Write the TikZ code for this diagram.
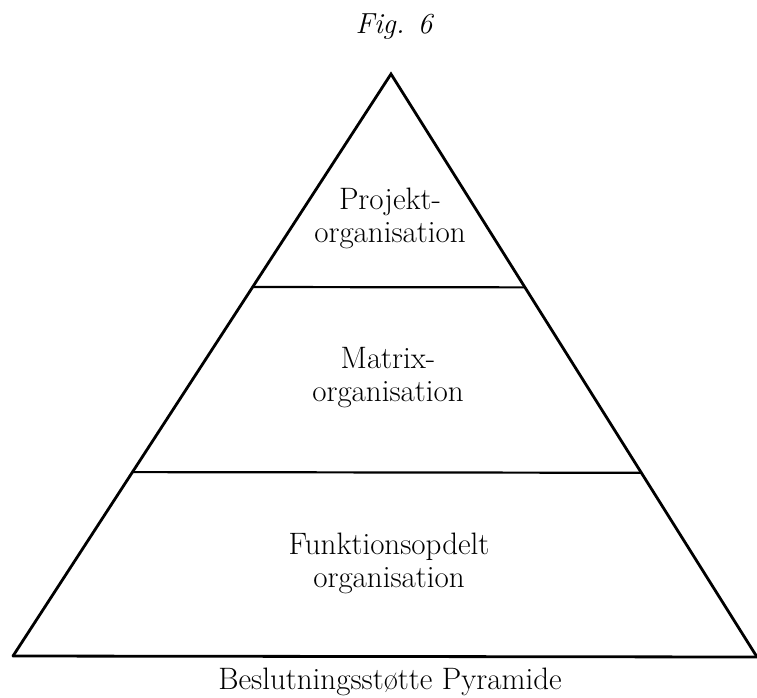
\documentclass[tikz,border=0pt]{standalone}
\usetikzlibrary{calc}
\begin{document}
\begin{tikzpicture}[x=1pt,y=-1pt,
  side/.style={line width=2.8pt,line join=miter,line cap=round},
  tier/.style={line width=2.2pt},
  label/.style={align=center,inner sep=0pt,
    font=\fontsize{31}{33}\selectfont},
  caption/.style={inner sep=0pt,font=\fontsize{31}{33}\selectfont}]
  \useasboundingbox (0,0) rectangle (757,697);
  % corners of the pyramid
  \coordinate (A) at (391,74);
  \coordinate (L) at (13,656);
  \coordinate (R) at (757,657);
  % ends of the two dividing lines
  \coordinate (l1) at ($(A)!0.366!(L)$);
  \coordinate (r1) at ($(A)!0.366!(R)$);
  \coordinate (l2) at ($(A)!0.684!(L)$);
  \coordinate (r2) at ($(A)!0.684!(R)$);
  % outline
  \draw[side] (L) -- (A) -- (R);
  \draw[side] (L) -- (R);
  \draw[tier] (l1) -- (r1);
  \draw[tier] (l2) -- (r2);
  % texts
  \node[font=\itshape\fontsize{29}{30}\selectfont,inner sep=0pt] (fig) at (394,27) {Fig. 6};
  \node[label] (proj) at (390,218) {Projekt-\\organisation};
  \node[label] (matrix) at (388,378) {Matrix-\\organisation};
  \node[label] (funk) at (389,563) {Funktionsopdelt\\organisation};
  \node[caption,anchor=base] (cap) at (390,689) {Beslutningsstøtte Pyramide};
\end{tikzpicture}
\end{document}
